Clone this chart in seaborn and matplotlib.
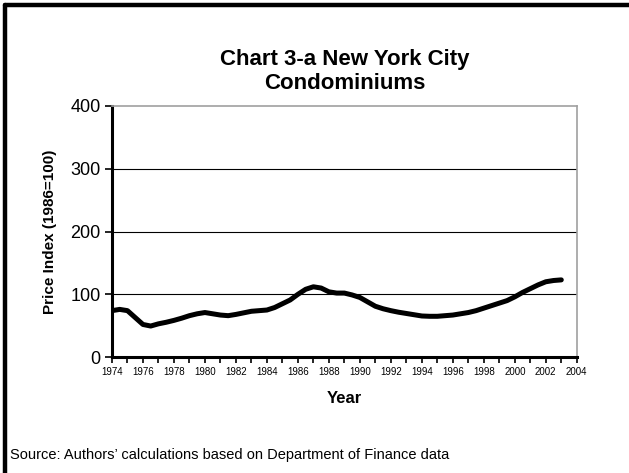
import numpy as np
import pandas as pd
import seaborn as sns
import matplotlib.pyplot as plt
from matplotlib.lines import Line2D
from matplotlib.ticker import MultipleLocator

# price index, half-year steps
years = [1974.0, 1974.5, 1975.0, 1975.5, 1976.0, 1976.5, 1977.0, 1977.5, 1978.0, 1978.5,
         1979.0, 1979.5, 1980.0, 1980.5, 1981.0, 1981.5, 1982.0, 1982.5, 1983.0, 1983.5,
         1984.0, 1984.5, 1985.0, 1985.5, 1986.0, 1986.5, 1987.0, 1987.5, 1988.0, 1988.5,
         1989.0, 1989.5, 1990.0, 1990.5, 1991.0, 1991.5, 1992.0, 1992.5, 1993.0, 1993.5,
         1994.0, 1994.5, 1995.0, 1995.5, 1996.0, 1996.5, 1997.0, 1997.5, 1998.0, 1998.5,
         1999.0, 1999.5, 2000.0, 2000.5, 2001.0, 2001.5, 2002.0, 2002.5, 2003.0]
price_index = [74, 76, 74, 63, 52, 49.5, 53, 55.5, 58.5, 62,
               66, 69, 71, 69, 67, 66, 68, 70.5, 73, 74,
               75, 79, 85, 91, 100, 108, 112, 110, 104, 102,
               102, 99, 95, 88, 81, 77, 74, 71.5, 69.5, 67.5,
               65.5, 65, 65, 66, 67, 69, 71, 74, 78, 82,
               86, 90, 96, 103, 109, 115, 120, 122, 123]
year_ticks = list(range(1974, 2005, 2))
y_ticks = [0, 100, 200, 300, 400]

df = pd.DataFrame({"Year": years, "Index": price_index})

sns.set_style("white")
plt.rcParams['font.family'] = ['Liberation Sans', 'DejaVu Sans']
plt.rcParams['text.color'] = 'black'
plt.rcParams['axes.labelcolor'] = 'black'
plt.rcParams['xtick.color'] = 'black'
plt.rcParams['ytick.color'] = 'black'

fig = plt.figure(figsize=(6.29, 4.73), dpi=100)
ax = fig.add_axes([0.178, 0.245, 0.739, 0.531])

sns.lineplot(data=df, x="Year", y="Index", ax=ax, color="black", linewidth=3.6)

ax.set_xlim(1974, 2004)
ax.set_ylim(0, 400)
ax.set_xticks(year_ticks)
ax.set_xticklabels([str(y) for y in year_ticks], fontsize=7)
ax.xaxis.set_minor_locator(MultipleLocator(1))
ax.set_yticks(y_ticks)
ax.tick_params(axis="y", labelsize=13, length=5, width=1.2, color="black", left=True, pad=3)
ax.tick_params(axis="x", which="both", length=4, width=1.2, color="black", bottom=True, pad=3)

for v in y_ticks[1:-1]:
    ax.axhline(v, color="black", linewidth=0.8, zorder=0)

for side in ["left", "bottom"]:
    ax.spines[side].set_color("black")
    ax.spines[side].set_linewidth(2.2)
for side in ["top", "right"]:
    ax.spines[side].set_color("#a0a0a0")
    ax.spines[side].set_linewidth(1.2)

ax.set_xlabel("Year", fontsize=12, fontweight="bold", labelpad=10)
ax.set_ylabel("Price Index (1986=100)", fontsize=11, fontweight="bold", labelpad=10)
ax.set_title("Chart 3-a New York City\nCondominiums", fontsize=16, fontweight="bold", pad=12)

fig.text(0.016, 0.038, "Source: Authors\u2019 calculations based on Department of Finance data",
         fontsize=10.5, ha="left", va="center")

# outer frame, top and left only
fig.add_artist(Line2D([0.008, 1.0], [0.989, 0.989], transform=fig.transFigure, color="black", linewidth=3.2))
fig.add_artist(Line2D([0.008, 0.008], [0.0, 0.989], transform=fig.transFigure, color="black", linewidth=3.2))

fig.savefig("out.png", dpi=100)
